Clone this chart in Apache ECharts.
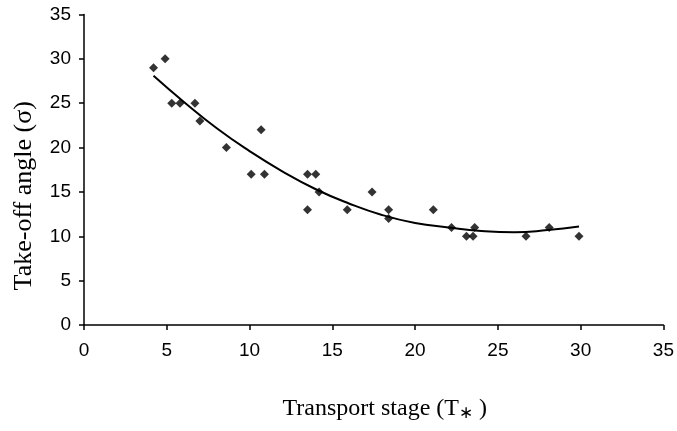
<!DOCTYPE html>
<html>
<head>
<meta charset="utf-8">
<script src="https://cdn.jsdelivr.net/npm/echarts@6/dist/echarts.min.js"></script>
<style>
html,body{margin:0;padding:0;background:#fff;}
#chart{width:677px;height:431px;}
</style>
</head>
<body>
<div id="chart"></div>
<script>
// Scatter observations: transport stage (T*) vs take-off angle
const stageX = [4.2, 4.9, 5.3, 5.8, 6.7, 7.0, 8.6, 10.7, 10.1, 10.9, 13.5, 14.0, 14.2, 13.5, 15.9, 17.4, 18.4, 18.4, 21.1, 22.2, 23.6, 23.1, 23.5, 26.7, 28.1, 29.9];
const angleY = [29, 30, 25, 25, 25, 23, 20, 22, 17, 17, 17, 17, 15, 13, 13, 15, 13, 12, 13, 11, 11, 10, 10, 10, 11, 10];

// Trend curve
const trendX = [4.2, 6, 8, 10, 12, 14, 16, 18, 20, 22, 24, 26, 28, 29.9];
const trendY = [28.1, 25.2, 22.2, 19.6, 17.3, 15.3, 13.7, 12.4, 11.5, 11.0, 10.6, 10.45, 10.7, 11.1];

const xTicks = { min: 0, max: 35, interval: 5 };
const yTicks = { min: 0, max: 35, interval: 5 };

const chart = echarts.init(document.getElementById('chart'), null, { renderer: 'canvas' });

const scatterData = stageX.map((x, i) => [x, angleY[i]]);
const trendData = trendX.map((x, i) => [x, trendY[i]]);

const axisCommon = {
  axisLine: { show: true, onZero: false, lineStyle: { color: '#000', width: 1.5 } },
  axisTick: { show: true, inside: false, length: 5, lineStyle: { color: '#000', width: 1.5 } },
  splitLine: { show: false },
  axisLabel: { color: '#000', fontFamily: 'Liberation Sans', fontSize: 19 }
};

chart.setOption({
  animation: false,
  backgroundColor: '#fff',
  grid: { left: 84, right: 12, top: 14.5, bottom: 106, containLabel: false },
  xAxis: Object.assign({}, axisCommon, {
    type: 'value',
    min: xTicks.min, max: xTicks.max, interval: xTicks.interval,
    name: '{a|Transport stage (T}{s|∗}{a| )}',
    nameLocation: 'middle',
    nameGap: 71,
    nameTextStyle: {
      padding: [0, 0, 0, 22],
      rich: {
        a: { fontFamily: 'Liberation Serif', fontSize: 24, color: '#000' },
        s: { fontFamily: 'Liberation Serif', fontSize: 17, color: '#000', verticalAlign: 'bottom', padding: [9, 0, 0, 0] }
      }
    },
    axisLabel: Object.assign({}, axisCommon.axisLabel, { margin: 16 })
  }),
  yAxis: Object.assign({}, axisCommon, {
    type: 'value',
    min: yTicks.min, max: yTicks.max, interval: yTicks.interval,
    name: 'Take-off angle (σ)',
    nameLocation: 'middle',
    nameGap: 47,
    nameRotate: 90,
    nameTextStyle: {
      color: '#000', fontFamily: 'Liberation Serif', fontSize: 26,
      padding: [0, 52, 0, 0]
    },
    axisLabel: Object.assign({}, axisCommon.axisLabel, { margin: 13 })
  }),
  series: [
    {
      type: 'scatter',
      data: scatterData,
      symbol: 'diamond',
      symbolSize: 9,
      itemStyle: { color: '#000' },
      z: 3
    },
    {
      type: 'line',
      data: trendData,
      smooth: true,
      showSymbol: false,
      symbol: 'none',
      lineStyle: { color: '#000', width: 2 },
      z: 2
    }
  ]
});
</script>
</body>
</html>
